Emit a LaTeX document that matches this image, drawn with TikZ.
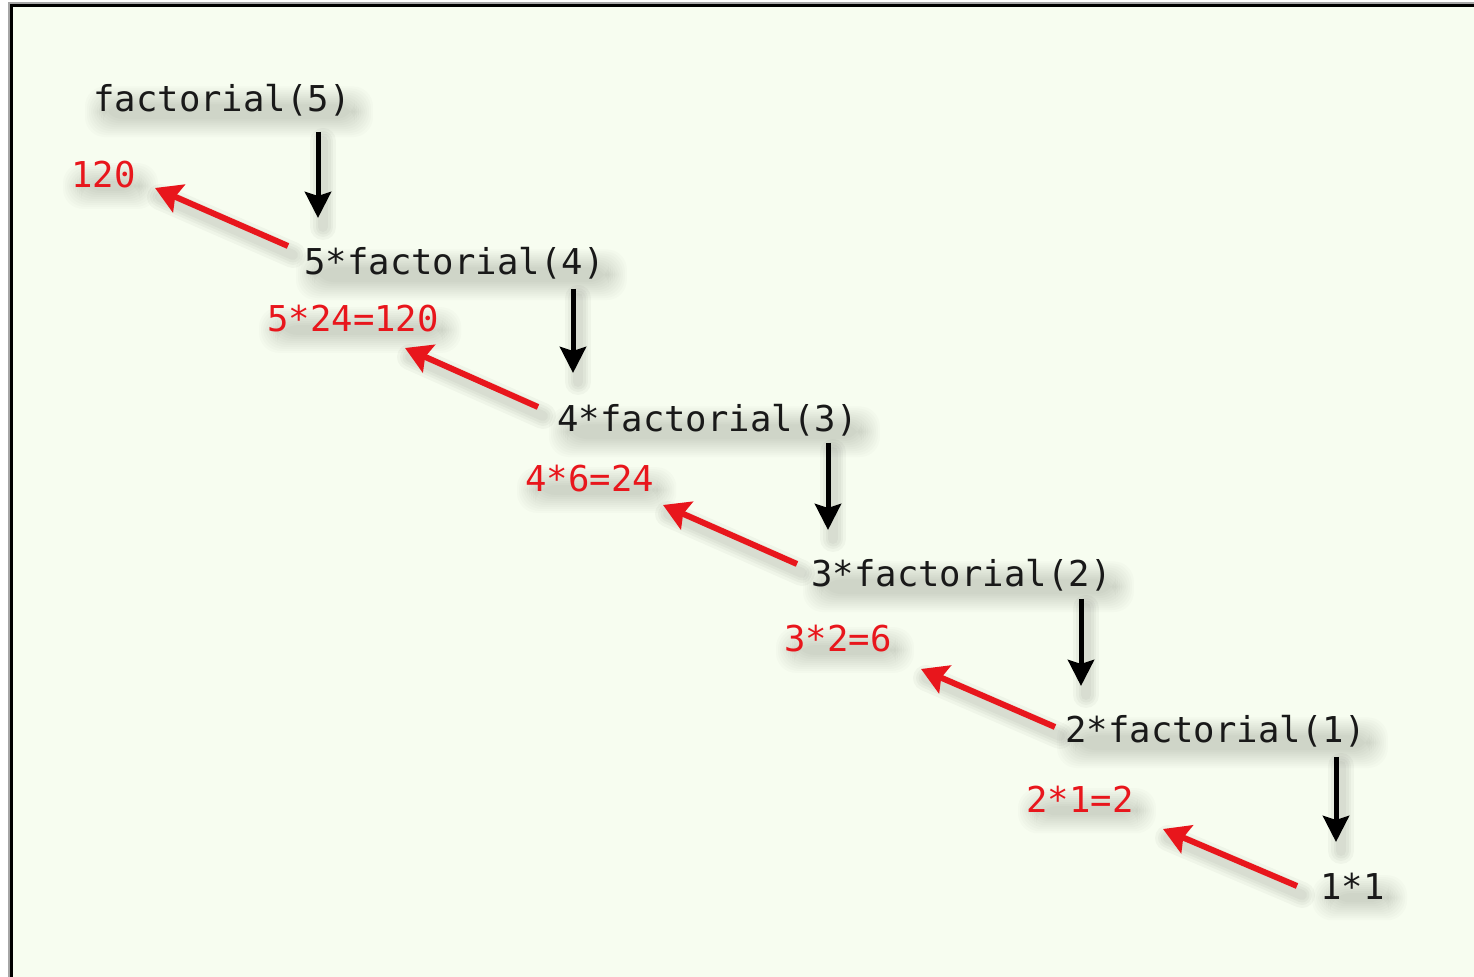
\documentclass[tikz,border=0pt]{standalone}
\usepackage{fontspec}
\setmonofont{DejaVu Sans Mono}
\usetikzlibrary{arrows.meta,calc}
\definecolor{bg}{RGB}{247,253,240}
\definecolor{fred}{RGB}{232,22,28}
\pgfdeclarelayer{back}
\pgfdeclarelayer{shadow}
\pgfsetlayers{back,shadow,main}
\tikzset{
  lbl/.style={anchor=base west, inner sep=0pt, font=\ttfamily\fontsize{17.8pt}{20pt}\selectfont},
  blk/.style={lbl, text=black!90},
  rd/.style={lbl, text=fred},
  shbox/.style={fill=black, fill opacity=0.016, rounded corners=10pt},
  downarrow/.style={draw=black, line width=2.5pt, -{Stealth[length=13pt,width=13pt,inset=2pt]}},
  uparrow/.style={draw=fred, line width=3pt, -{Stealth[length=13pt,width=15pt,inset=2pt]}},
  shline/.style={draw=black, draw opacity=0.03, line cap=round},
}
\newcommand{\lab}[5]{%
  \node[#2] (#1) at (#3,#4) {#5};
  \begin{pgfonlayer}{shadow}
  \foreach \g in {0,2,...,18}{%
    \fill[shbox] ($(#1.north west)+(10-\g,20-\g)$) rectangle ($(#1.south east)+(4+\g,2+\g)$);}
  \end{pgfonlayer}
}
\newcommand{\arr}[3]{%
  \begin{pgfonlayer}{shadow}
  \foreach \w in {26,20,15,10}{%
    \draw[shline, line width=\w*0.5pt] ($(#2)+(5,9)$) -- ($(#3)+(5,9)$);}
  \end{pgfonlayer}
  \draw[#1] (#2) -- (#3);
}
\begin{document}
\begin{tikzpicture}[x=0.5pt,y=-0.5pt]
\useasboundingbox (0,0) rectangle (1474,977);
\begin{pgfonlayer}{back}
\fill[white] (0,0) rectangle (1474,977);
\fill[bg] (12,7) rectangle (1474,977);
\draw[black!35, line width=0.6pt] (9,977) -- (9,3) -- (1474,3);
\draw[black, line width=1.8pt] (11.5,977) -- (11.5,5.5) -- (1474,5.5);
\end{pgfonlayer}

% labels
\lab{f5}{blk}{93}{112}{factorial(5)}
\lab{v5}{rd}{71}{188}{120}
\lab{f4}{blk}{304}{275}{5*factorial(4)}
\lab{v4}{rd}{267}{332}{5*24=120}
\lab{f3}{blk}{557}{432}{4*factorial(3)}
\lab{v3}{rd}{525}{492}{4*6=24}
\lab{f2}{blk}{811}{587}{3*factorial(2)}
\lab{v2}{rd}{784}{652}{3*2=6}
\lab{f1}{blk}{1065}{743}{2*factorial(1)}
\lab{v1}{rd}{1026}{813}{2*1=2}
\lab{f0}{blk}{1320}{900}{1*1}

% arrow end points
\coordinate (b1s) at (318,132);  \coordinate (b1e) at (318,218);
\coordinate (b2s) at (573,289);  \coordinate (b2e) at (573,373);
\coordinate (b3s) at (828,443);  \coordinate (b3e) at (828,530);
\coordinate (b4s) at (1081,599); \coordinate (b4e) at (1081,686);
\coordinate (b5s) at (1336,757); \coordinate (b5e) at (1336,842);
\coordinate (r1s) at (288,246);  \coordinate (r1e) at (155,188);
\coordinate (r2s) at (538,407);  \coordinate (r2e) at (405,348);
\coordinate (r3s) at (797,564);  \coordinate (r3e) at (663,505);
\coordinate (r4s) at (1055,727); \coordinate (r4e) at (921,669);
\coordinate (r5s) at (1297,886); \coordinate (r5e) at (1163,829);

\arr{downarrow}{b1s}{b1e}
\arr{downarrow}{b2s}{b2e}
\arr{downarrow}{b3s}{b3e}
\arr{downarrow}{b4s}{b4e}
\arr{downarrow}{b5s}{b5e}
\arr{uparrow}{r1s}{r1e}
\arr{uparrow}{r2s}{r2e}
\arr{uparrow}{r3s}{r3e}
\arr{uparrow}{r4s}{r4e}
\arr{uparrow}{r5s}{r5e}
\end{tikzpicture}
\end{document}
